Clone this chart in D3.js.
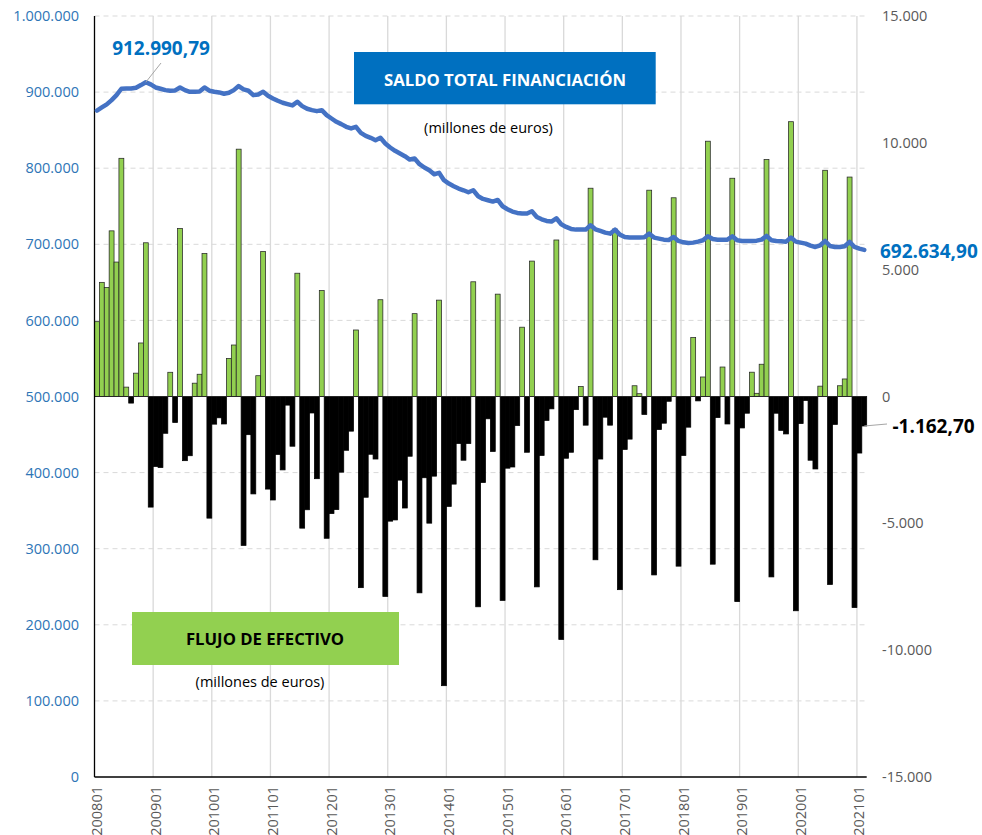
<!DOCTYPE html>
<html>
<head>
<meta charset="utf-8">
<script src="https://cdn.jsdelivr.net/npm/d3@7"></script>
<style>
body { margin: 0; background: #fff; }
svg { display: block; font-family: "Open Sans", sans-serif; }
</style>
</head>
<body>
<svg id="chart" width="982" height="835"></svg>
<script>

// categories: one per month, 200801 .. 202102
const months = [];
for (let y = 2008; y <= 2021; y++) {
    for (let m = 1; m <= 12; m++) {
        if (y === 2021 && m > 2) break;
        months.push(`${y}${String(m).padStart(2, '0')}`);
    }
}

// flujo de efectivo (millones de euros), right axis
const flujo = [
    2950, 4500, 4300, 6530, 5300, 9390, 370, -260, 920, 2110, 6060, -4360,
    -2760, -2800, -1450, 955, -1025, 6625, -2530, -2335, 525, 877, 5636, -4795,
    -1090, -840, -1083, 1500, 2030, 9750, -5870, -1505, -3840, 820, 5715, -3650,
    -4080, -2285, -2893, -340, -1960, 4860, -5190, -4465, -650, -3240, 4176, -5589,
    -4616, -4459, -2983, -2120, -1366, 2622, -7536, -3972, -2277, -2465, 3815, -7881,
    -4914, -4867, -3297, -4396, -2355, 3266, -7740, -3203, -4993, -3140, 3799, -11400,
    -4333, -3454, -1853, -2512, -1853, 4522, -8290, -3391, -879, -2167, 4035, -8038,
    -2826, -2779, -1146, 2732, -2198, 5338, -7505, -2324, -942, -487, 6170, -9577,
    -2434, -2198, -518, 393, -1130, 8211, -6437, -2465, -816, -1130, 6600, -7615,
    -2088, -1680, 424, 110, -707, 8133, -7034, -1303, -1052, -188, 7834, -6688,
    -2324, -1209, 2324, -173, 769, 10064, -6610, -832, 1162, -1083, 8604, -8086,
    -1240, -659, 958, 126, 1272, 9342, -7112, -659, -1335, -1476, 10833, -8447,
    -1068, -157, -2512, -2857, 408, 8918, -7410, -1099, 424, 691, 8651, -8321,
    -2229, -1162.70
];

// saldo total financiación (millones de euros), left axis
const saldo = [
    875700, 879800, 883800, 889500, 896000, 904400, 904800, 904800, 905700, 909200, 912990.79, 910100,
    906100, 904400, 902600, 901800, 902200, 906100, 902600, 900400, 900400, 900900, 906100, 901800,
    900400, 899600, 897800, 899100, 902600, 907900, 903500, 901800, 896000, 896900, 900400, 895200,
    891700, 888600, 886000, 884200, 882500, 887300, 881600, 878100, 876300, 875000, 876300, 869700,
    865300, 861000, 857900, 854400, 852200, 854400, 846500, 842500, 839900, 836800, 839900, 832500,
    827200, 822800, 819300, 815800, 811400, 812700, 805300, 800900, 797400, 792100, 793900, 784200,
    779800, 776300, 773200, 771000, 768400, 771000, 763200, 759600, 757900, 756100, 758300, 750000,
    746100, 743000, 741200, 740400, 740400, 743400, 736000, 732900, 730700, 729900, 734200, 726300,
    722800, 720200, 719300, 719300, 719300, 725000, 719700, 717500, 715300, 714000, 719300, 712700,
    709600, 708800, 708800, 708800, 709200, 714000, 708800, 707500, 706100, 705700, 709600, 704400,
    702600, 701800, 702200, 703500, 705300, 710500, 707000, 706100, 706100, 706100, 710500, 705300,
    704400, 704400, 704400, 704800, 706100, 711000, 705300, 704400, 703900, 703500, 708800, 703500,
    702200, 700900, 698200, 696500, 698700, 704400, 697800, 696500, 696500, 697400, 703100, 696500,
    694300, 692634.90
];

const leftTicks = [0, 100000, 200000, 300000, 400000, 500000, 600000, 700000, 800000, 900000, 1000000];
const rightTicks = [-15000, -10000, -5000, 0, 5000, 10000, 15000];
const yearTicks = months.filter((m, i) => i % 12 === 0);

const es = d3.formatLocale({decimal: ",", thousands: ".", grouping: [3], currency: ["", " €"], minus: "-"});
const fmtInt = es.format(",.0f");
const fmtDec = es.format(",.2f");

const svg = d3.select("#chart");
const plotLeft = 94.5, plotRight = 866.7, plotTop = 16, plotBottom = 777;

const x = d3.scaleBand().domain(months).range([plotLeft, plotRight]).padding(0);
const yL = d3.scaleLinear().domain([0, 1000000]).range([plotBottom, plotTop]);
const yR = d3.scaleLinear().domain([-15000, 15000]).range([plotBottom, plotTop]);
const bw = x.bandwidth();

// gridlines
svg.append("g")
    .selectAll("line")
    .data(leftTicks.filter(d => d > 0))
    .enter()
    .append("line")
    .attr("x1", plotLeft).attr("x2", plotRight)
    .attr("y1", d => yL(d)).attr("y2", d => yL(d))
    .style("stroke", "#d9d9d9")
    .style("stroke-width", 1)
    .style("stroke-dasharray", "5,4");

svg.append("g")
    .selectAll("line")
    .data(yearTicks.slice(1))
    .enter()
    .append("line")
    .attr("x1", d => x(d)).attr("x2", d => x(d))
    .attr("y1", plotTop).attr("y2", plotBottom)
    .style("stroke", "#d9d9d9")
    .style("stroke-width", 1.3);

// bars
svg.append("g")
    .selectAll("rect")
    .data(flujo)
    .enter()
    .append("rect")
    .attr("x", (d, i) => x(months[i]))
    .attr("width", bw)
    .attr("y", d => yR(Math.max(0, d)))
    .attr("height", d => Math.abs(yR(d) - yR(0)))
    .style("fill", d => d >= 0 ? "#92d050" : "#000")
    .style("stroke", d => d >= 0 ? "#262626" : "#000")
    .style("stroke-width", 0.75);

svg.append("line")
    .attr("x1", plotLeft).attr("x2", plotRight)
    .attr("y1", yR(0)).attr("y2", yR(0))
    .style("stroke", "#262626")
    .style("stroke-width", 1);

// axis lines
svg.append("line")
    .attr("x1", plotLeft).attr("x2", plotLeft)
    .attr("y1", plotTop).attr("y2", plotBottom)
    .style("stroke", "#000").style("stroke-width", 1.3);
svg.append("line")
    .attr("x1", plotLeft).attr("x2", plotRight)
    .attr("y1", plotBottom).attr("y2", plotBottom)
    .style("stroke", "#000").style("stroke-width", 1.3);

// saldo line
const line = d3.line()
    .x((d, i) => x(months[i]) + bw / 2)
    .y(d => yL(d));

svg.append("path")
    .datum(saldo)
    .attr("d", line)
    .style("fill", "none")
    .style("stroke", "#4472c4")
    .style("stroke-width", 4.5)
    .style("stroke-linejoin", "round")
    .style("stroke-linecap", "round");

// axes
const axisL = svg.append("g")
    .attr("transform", `translate(${plotLeft},0)`)
    .call(d3.axisLeft(yL).tickValues(leftTicks).tickFormat(fmtInt).tickSize(0).tickPadding(15.5));
axisL.select(".domain").remove();
axisL.selectAll("text")
    .style("font-family", "Open Sans")
    .style("font-size", "14.5px")
    .style("fill", "#2e75b6");

const axisR = svg.append("g")
    .attr("transform", `translate(${plotRight},0)`)
    .call(d3.axisRight(yR).tickValues(rightTicks).tickFormat(fmtInt).tickSize(0).tickPadding(15.3));
axisR.select(".domain").remove();
axisR.selectAll("text")
    .style("font-family", "Open Sans")
    .style("font-size", "14.5px")
    .style("fill", "#595959");

const axisB = svg.append("g")
    .attr("transform", `translate(0,${plotBottom})`)
    .call(d3.axisBottom(x).tickValues(yearTicks).tickSize(0));
axisB.select(".domain").remove();
axisB.selectAll("text")
    .attr("transform", "rotate(-90)")
    .attr("x", -9)
    .attr("y", 0)
    .attr("dy", "0.35em")
    .style("text-anchor", "end")
    .style("font-family", "Open Sans")
    .style("font-size", "14.5px")
    .style("fill", "#595959");

// data labels
const first = saldo.indexOf(d3.max(saldo));
const last = saldo.length - 1;

svg.append("line")
    .attr("x1", 161).attr("y1", 63)
    .attr("x2", x(months[first]) + bw / 2).attr("y2", yL(saldo[first]))
    .style("stroke", "#a6a6a6").style("stroke-width", 1);
svg.append("text")
    .attr("x", 161).attr("y", 55)
    .attr("text-anchor", "middle")
    .style("font-size", "19px").style("font-weight", "bold")
    .style("fill", "#0070c0")
    .text(fmtDec(saldo[first]));

svg.append("text")
    .attr("x", 880).attr("y", 257.5)
    .style("font-size", "19px").style("font-weight", "bold")
    .style("fill", "#0070c0")
    .text(fmtDec(saldo[last]));

svg.append("line")
    .attr("x1", x(months[last]) + bw / 2).attr("y1", yR(flujo[last]))
    .attr("x2", 887).attr("y2", 424)
    .style("stroke", "#a6a6a6").style("stroke-width", 1);
svg.append("text")
    .attr("x", 892.5).attr("y", 432.5)
    .style("font-size", "19px").style("font-weight", "bold")
    .style("fill", "#000")
    .text(fmtDec(flujo[last]));

// titles
svg.append("rect")
    .attr("x", 354).attr("y", 52).attr("width", 301.7).attr("height", 52.3)
    .style("fill", "#0070c0");
svg.append("text")
    .attr("x", 505).attr("y", 85.5)
    .attr("text-anchor", "middle")
    .style("font-size", "16.7px").style("font-weight", "bold")
    .style("fill", "#fff")
    .text("SALDO TOTAL FINANCIACIÓN");
svg.append("text")
    .attr("x", 488.5).attr("y", 132.5)
    .attr("text-anchor", "middle")
    .style("font-size", "14.5px")
    .style("fill", "#000")
    .text("(millones de euros)");

svg.append("rect")
    .attr("x", 132).attr("y", 612).attr("width", 267).attr("height", 53)
    .style("fill", "#92d050");
svg.append("text")
    .attr("x", 265).attr("y", 645)
    .attr("text-anchor", "middle")
    .style("font-size", "16.7px").style("font-weight", "bold")
    .style("fill", "#000")
    .text("FLUJO DE EFECTIVO");
svg.append("text")
    .attr("x", 260).attr("y", 687)
    .attr("text-anchor", "middle")
    .style("font-size", "14.5px")
    .style("fill", "#000")
    .text("(millones de euros)");

</script>
</body>
</html>
